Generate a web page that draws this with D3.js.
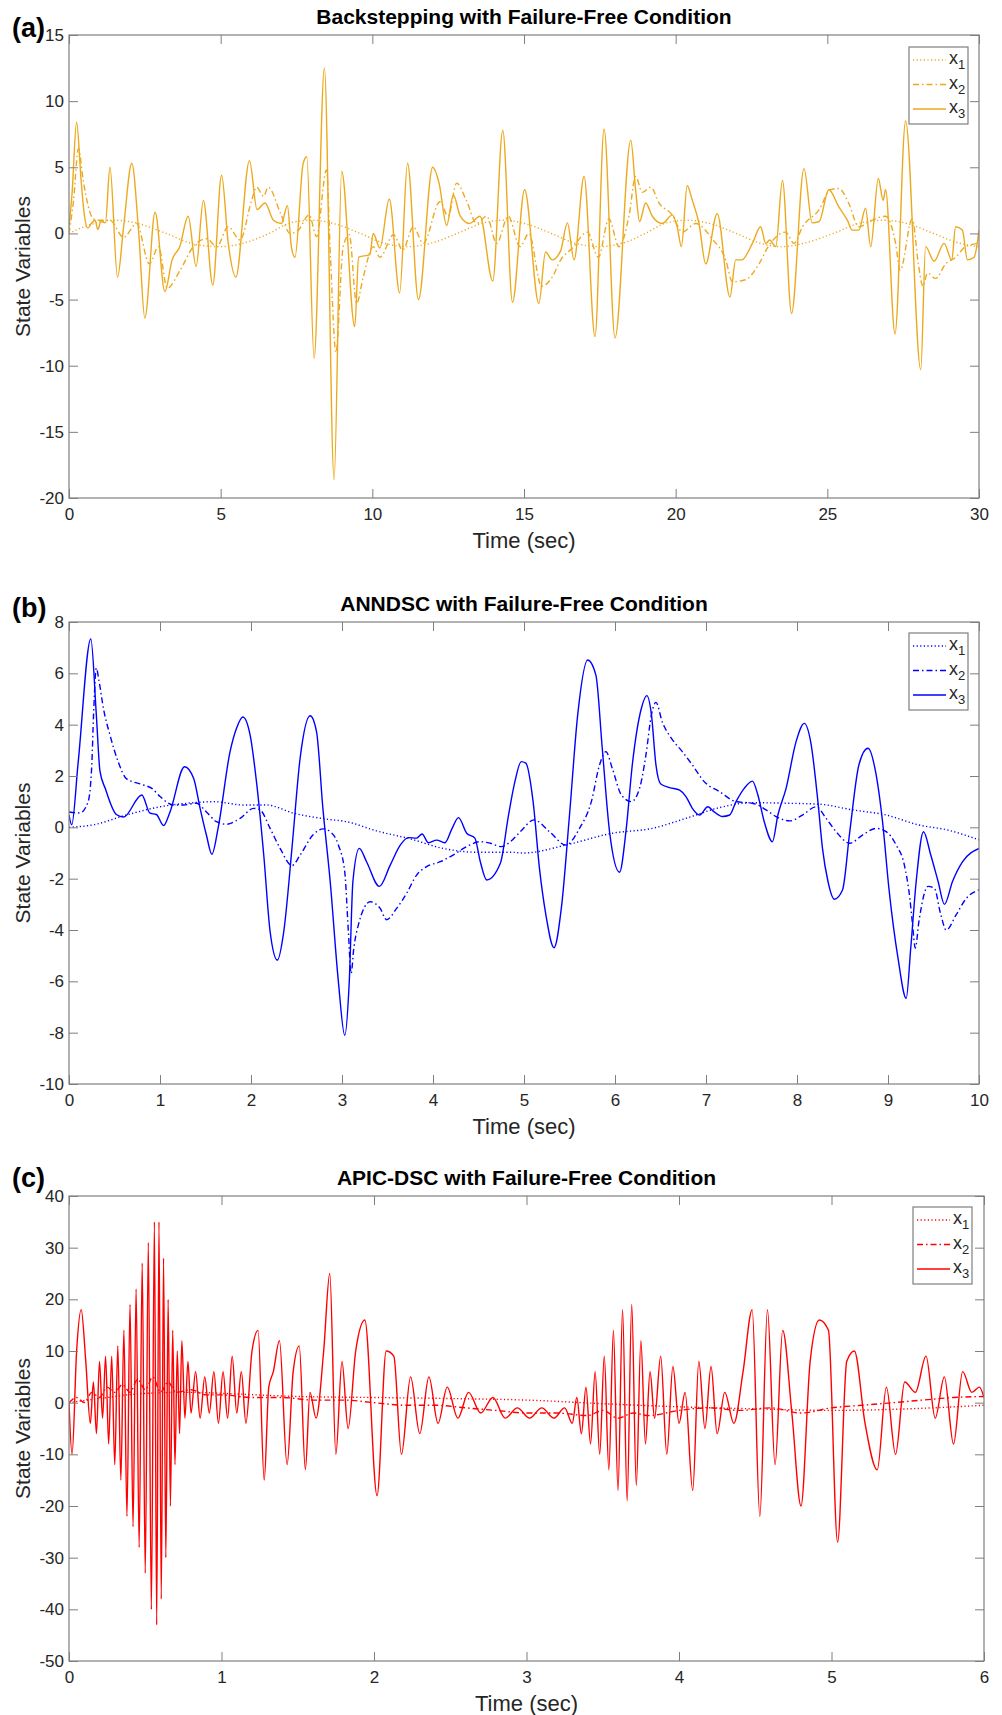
<!DOCTYPE html>
<html>
<head>
<meta charset="utf-8">
<script src="https://cdn.jsdelivr.net/npm/d3@7"></script>
<style>
body { margin: 0; background: #fff; }
text { font-family: Arial, "Liberation Sans", Helvetica, sans-serif; }
</style>
</head>
<body>
<script>
// ---- panel (a): Backstepping, [time, value]
var backX1 = [[0,0],[0.5,0.5],[1.0,0.85],[1.5,1],[2.2,0.8],[3.2,0],[4.2,-0.85],[5.0,-1],[5.8,-0.7],[6.6,0],[7.3,0.8],[8.0,1],[8.8,0.7],[9.6,0],[10.4,-0.75],[11.2,-1],[12.0,-0.7],[12.8,0],[13.6,0.75],[14.3,1],[15.1,0.7],[15.9,0],[16.7,-0.75],[17.5,-1],[18.3,-0.7],[19.0,0],[19.7,0.8],[20.4,1],[21.2,0.7],[22.0,0],[22.8,-0.75],[23.5,-1],[24.3,-0.7],[25.2,0],[26.1,0.8],[26.9,1],[27.7,0.7],[28.5,0],[29.3,-0.7],[30,-1]];
var backX2 = [[0,0],[0.15,2.5],[0.31,6.4],[0.47,4],[0.64,2],[0.8,1.1],[0.97,1],[1.35,1],[1.8,-0.3],[2.23,0.75],[2.65,-2.3],[2.95,-1],[3.24,-4.15],[3.66,-2.8],[4.1,-1],[4.54,-0.4],[4.87,-1],[5.25,0.5],[5.64,-0.5],[6.02,2.5],[6.19,3.5],[6.41,2.8],[6.57,3.5],[6.96,1.6],[7.29,0],[7.56,0.25],[7.92,1.4],[8.16,-0.25],[8.49,4.8],[8.62,-1.8],[8.8,-9],[9.04,-1],[9.24,-0.1],[9.48,-5.3],[9.7,-3.3],[10.03,-1],[10.25,-1.8],[10.7,-0.1],[11.0,-1.25],[11.35,0.5],[11.68,-0.75],[12.23,2.4],[12.5,1.3],[12.78,3.8],[13.1,2.5],[13.44,0.75],[13.77,1.3],[14.1,-0.75],[14.48,1.3],[14.87,-1],[15.16,0],[15.58,-4],[15.93,-3.3],[16.21,-2],[16.6,-1.1],[17.09,0.1],[17.45,-1.8],[17.8,1.1],[18.13,-1],[18.46,1.3],[18.68,4.3],[18.9,3.1],[19.18,3.5],[19.45,2.3],[19.89,1.4],[20.22,0.1],[20.66,0.75],[21.2,-0.4],[21.65,-2],[21.87,-3.65],[22.3,-3.5],[22.75,-2.3],[23.05,-1],[23.63,0.1],[23.9,-0.75],[24.18,0.5],[24.73,1.8],[25.1,3.3],[25.38,3.4],[25.7,2.3],[26.04,0.5],[26.48,1],[26.92,1.3],[27.25,-0.75],[27.4,-2.8],[27.8,1.1],[28.0,-2.3],[28.15,-4],[28.3,-3],[28.57,-3.4],[28.9,-2.3],[29.23,-1.8],[29.56,-1],[30,-0.75]];
var backX3 = [[0,0.5],[0.1,3],[0.25,8.4],[0.4,4],[0.5,1.5],[0.62,0.4],[0.75,0.8],[0.86,1],[0.95,0.3],[1.05,0.9],[1.2,0.8],[1.35,5.0],[1.6,-3.3],[1.8,0.5],[2.07,5.3],[2.3,0],[2.5,-6.4],[2.84,1.6],[3.16,-4.4],[3.4,-2],[3.65,-1],[3.93,1.3],[4.19,-2.5],[4.43,2.5],[4.74,-3.9],[5.03,4.4],[5.25,-0.75],[5.5,-3.3],[5.95,5.5],[6.2,1.8],[6.46,2.3],[6.74,1],[7.0,0.75],[7.2,2.1],[7.33,-1],[7.45,-1.8],[7.72,5.3],[7.84,5.8],[8.08,-9.45],[8.42,12.5],[8.74,-18.6],[8.99,4.7],[9.42,-7.05],[9.55,-1.8],[9.92,-1.6],[10.03,0],[10.25,-1.1],[10.56,2.6],[10.9,-4.5],[11.16,5.3],[11.52,-5.0],[11.99,5.0],[12.2,3.8],[12.45,0.6],[12.67,2.9],[12.9,1.3],[13.2,0.75],[13.55,1.3],[13.97,-3.6],[14.3,7.8],[14.62,-5.2],[15.02,3.3],[15.49,-5.3],[15.71,-1.4],[15.93,-2],[16.21,-1.3],[16.43,0.8],[16.65,-2],[16.98,4.3],[17.34,-7.8],[17.64,7.9],[18.0,-7.9],[18.52,7.05],[18.68,3.3],[18.81,0.9],[19.01,2.3],[19.23,1.3],[19.56,0.75],[19.89,1.4],[20.05,0.5],[20.19,-1],[20.38,3.6],[20.55,2.5],[20.77,0.75],[20.99,-2.3],[21.37,1.5],[21.79,-4.8],[21.98,-2],[22.18,-2],[22.53,-0.75],[22.8,0.5],[22.97,-0.75],[23.1,-0.5],[23.3,-1],[23.52,4.0],[23.82,-6.05],[24.23,4.9],[24.5,0.8],[24.73,0.9],[25.05,3.3],[25.38,2],[25.66,1],[25.82,0.25],[26.04,0.25],[26.26,1.9],[26.43,-1],[26.68,4.15],[26.84,2.5],[26.92,3.3],[27.23,-7.6],[27.58,8.5],[28.08,-10.3],[28.24,-1],[28.52,-2.1],[28.85,-0.75],[29.1,-2],[29.23,0.5],[29.45,0.25],[29.62,-2],[29.84,-1.8],[30,0.25]];
var backXTicks = [0, 5, 10, 15, 20, 25, 30];
var backYTicks = [-20, -15, -10, -5, 0, 5, 10, 15];

// ---- panel (b): ANNDSC
var anndX1 = [[0,0],[0.27,0.1],[0.63,0.48],[1.0,0.8],[1.37,0.96],[1.59,1.0],[1.92,0.87],[2.17,0.87],[2.47,0.55],[2.83,0.32],[3.05,0.22],[3.38,-0.14],[3.75,-0.45],[4.11,-0.82],[4.48,-0.97],[4.85,-0.97],[5.0,-1.0],[5.46,-0.69],[5.97,-0.23],[6.41,-0.04],[6.78,0.35],[7.15,0.77],[7.51,0.96],[7.88,0.94],[8.25,0.9],[8.61,0.68],[8.98,0.48],[9.34,0.09],[9.65,-0.1],[10,-0.49]];
var anndX2 = [[0,0.6],[0.12,0.56],[0.21,1.0],[0.25,2.4],[0.27,4.4],[0.3,6.2],[0.33,5.7],[0.38,4.6],[0.45,3.6],[0.54,2.56],[0.63,1.9],[0.82,1.65],[0.91,1.52],[1.0,1.2],[1.15,0.87],[1.26,0.87],[1.4,0.94],[1.51,0.6],[1.62,0.22],[1.73,0.12],[1.88,0.35],[2.03,0.74],[2.1,0.68],[2.21,-0.04],[2.32,-0.82],[2.45,-1.49],[2.54,-1.08],[2.68,-0.3],[2.79,-0.06],[2.87,-0.17],[2.96,-0.69],[3.03,-1.73],[3.07,-4.06],[3.1,-5.69],[3.13,-4.7],[3.18,-3.8],[3.31,-2.9],[3.42,-3.16],[3.49,-3.6],[3.6,-3.16],[3.71,-2.57],[3.82,-1.86],[3.93,-1.53],[4.08,-1.34],[4.22,-1.08],[4.37,-0.75],[4.52,-0.56],[4.63,-0.62],[4.75,-0.75],[4.85,-0.56],[4.96,-0.17],[5.11,0.29],[5.28,-0.17],[5.46,-0.69],[5.61,-0.04],[5.74,1.0],[5.83,2.43],[5.9,2.95],[5.97,2.3],[6.07,1.26],[6.18,1.0],[6.27,1.52],[6.34,2.82],[6.4,4.38],[6.45,4.87],[6.52,4.1],[6.62,3.47],[6.74,2.95],[6.85,2.43],[6.98,1.78],[7.15,1.39],[7.33,1.0],[7.51,0.94],[7.66,0.68],[7.77,0.42],[7.92,0.25],[8.06,0.48],[8.21,0.8],[8.32,0.35],[8.43,-0.17],[8.58,-0.62],[8.72,-0.3],[8.87,-0.04],[8.98,-0.17],[9.09,-0.69],[9.18,-1.47],[9.24,-2.77],[9.27,-3.8],[9.3,-4.7],[9.34,-3.66],[9.44,-2.3],[9.51,-2.38],[9.58,-3.4],[9.64,-4.0],[9.75,-3.4],[9.86,-2.77],[10,-2.44]];
var anndX3 = [[0,0.48],[0.03,0.1],[0.1,2.5],[0.24,7.34],[0.3,4.4],[0.34,2.2],[0.4,1.5],[0.52,0.5],[0.6,0.4],[0.8,1.26],[0.89,0.55],[0.96,0.5],[1.04,0.07],[1.11,0.6],[1.27,2.36],[1.37,1.9],[1.44,0.75],[1.51,-0.3],[1.57,-1.05],[1.64,0],[1.77,2.95],[1.84,3.85],[1.91,4.3],[1.99,3.6],[2.06,1.78],[2.14,-1.08],[2.21,-4.06],[2.29,-5.17],[2.36,-4.06],[2.45,-0.82],[2.54,2.7],[2.65,4.35],[2.72,3.73],[2.79,0.74],[2.87,-2.1],[2.96,-6.0],[3.03,-8.1],[3.08,-6.0],[3.12,-2.1],[3.19,-0.82],[3.27,-1.34],[3.41,-2.3],[3.53,-1.47],[3.64,-0.69],[3.73,-0.4],[3.82,-0.42],[3.88,-0.26],[3.95,-0.6],[4.04,-0.5],[4.13,-0.6],[4.21,-0.04],[4.28,0.38],[4.37,-0.23],[4.46,-0.42],[4.52,-1.34],[4.59,-2.05],[4.74,-1.4],[4.83,0.48],[4.9,1.78],[4.97,2.56],[5.02,2.5],[5.1,1.0],[5.17,-1.6],[5.24,-3.4],[5.33,-4.69],[5.41,-3.16],[5.5,0.48],[5.59,4.38],[5.7,6.52],[5.79,5.93],[5.86,3.08],[5.94,-0.17],[6.05,-1.75],[6.12,-0.17],[6.19,2.43],[6.29,4.64],[6.35,5.13],[6.4,4.4],[6.45,2.43],[6.5,1.7],[6.6,1.55],[6.71,1.45],[6.78,1.2],[6.85,0.74],[6.93,0.48],[7.02,0.8],[7.09,0.6],[7.18,0.42],[7.26,0.48],[7.33,1.0],[7.42,1.52],[7.51,1.8],[7.57,1.26],[7.64,0.22],[7.73,-0.56],[7.79,0.48],[7.88,1.52],[7.99,3.34],[8.08,4.05],[8.15,3.34],[8.23,1.0],[8.28,-0.82],[8.34,-2.1],[8.41,-2.8],[8.5,-2.44],[8.58,-0.17],[8.68,2.43],[8.78,3.08],[8.87,2.04],[8.94,0.22],[9.01,-2.38],[9.11,-5.1],[9.2,-6.66],[9.25,-4.7],[9.31,-2.1],[9.39,-0.17],[9.47,-1.08],[9.55,-2.1],[9.62,-3.0],[9.71,-2.1],[9.82,-1.34],[10,-0.82]];
var anndXTicks = [0, 1, 2, 3, 4, 5, 6, 7, 8, 9, 10];
var anndYTicks = [-10, -8, -6, -4, -2, 0, 2, 4, 6, 8];

// ---- panel (c): APIC-DSC
var apicX1 = [[0,0],[0.2,0.8],[0.5,1.8],[0.8,2],[1.0,1.8],[1.5,1.2],[2.0,1],[2.5,0.8],[3.0,0.5],[3.5,-0.2],[4.0,-0.8],[4.5,-1.2],[5.0,-1.5],[5.5,-1.2],[6.0,-0.5]];
var apicX2 = [[0,0],[0.05,1],[0.1,0],[0.15,2],[0.2,1],[0.25,3],[0.3,2],[0.35,3.5],[0.4,2],[0.45,4.5],[0.5,2.5],[0.55,5],[0.6,2],[0.65,4],[0.7,2],[0.8,2.5],[0.9,1.5],[1.0,1.5],[1.2,1],[1.4,1],[1.6,0.5],[1.8,0.5],[2.0,0],[2.2,-0.5],[2.4,-0.5],[2.6,-1],[2.8,-1.5],[3.0,-2],[3.2,-2],[3.4,-2.5],[3.5,-1.5],[3.6,-3],[3.7,-2],[3.8,-2.5],[4.0,-1.5],[4.2,-1],[4.4,-1.5],[4.6,-1],[4.8,-2],[5.0,-1],[5.2,-0.5],[5.4,0],[5.6,0.5],[5.8,1],[6.0,1.2]];
var apicX3 = [[0,0],[0.02,-10],[0.05,10],[0.08,18],[0.11,8],[0.14,-4],[0.16,4],[0.18,-6],[0.2,8],[0.22,-3],[0.24,9],[0.26,-8],[0.28,9],[0.3,-12],[0.32,11],[0.34,-15],[0.36,14],[0.38,-22],[0.4,19],[0.42,-24],[0.44,22],[0.46,-28],[0.48,27],[0.5,-33],[0.52,31],[0.54,-40],[0.56,35],[0.575,-43],[0.59,35],[0.605,-38],[0.62,28],[0.635,-30],[0.65,20],[0.665,-20],[0.68,14],[0.695,-12],[0.71,10],[0.725,-6],[0.74,12],[0.76,-3],[0.78,8],[0.8,-2],[0.83,6],[0.86,-3],[0.89,5],[0.92,-2],[0.95,6],[0.98,-4],[1.01,6],[1.04,-3],[1.07,9],[1.1,-2],[1.13,6],[1.16,-4],[1.2,10],[1.24,14],[1.28,-15],[1.31,3],[1.34,6],[1.38,12],[1.43,-12],[1.47,6],[1.51,11],[1.55,-13],[1.58,2],[1.62,-3],[1.67,10],[1.71,25],[1.75,-10],[1.79,8],[1.83,-5],[1.88,10],[1.94,16],[2.02,-18],[2.08,10],[2.13,9],[2.18,-10],[2.24,5],[2.3,-6],[2.36,5],[2.42,-4],[2.48,3],[2.55,-3],[2.62,2],[2.7,-2],[2.78,1],[2.86,-3],[2.94,-1],[3.02,-3],[3.1,-1],[3.18,-3],[3.25,-1],[3.3,-4],[3.33,1],[3.36,-6],[3.39,3],[3.42,-8],[3.45,6],[3.48,-10],[3.51,9],[3.54,-13],[3.57,14],[3.6,-17],[3.63,18],[3.66,-19],[3.69,19],[3.72,-16],[3.75,12],[3.78,-8],[3.81,6],[3.84,-3],[3.88,9],[3.92,-10],[3.96,7],[4.0,-4],[4.04,2],[4.09,-17],[4.13,8],[4.17,-5],[4.21,7],[4.25,-6],[4.3,2],[4.36,-4],[4.42,6],[4.48,18],[4.53,-22],[4.58,18],[4.63,-12],[4.68,14],[4.74,-2],[4.8,-20],[4.86,8],[4.92,16],[4.98,14],[5.04,-27],[5.1,8],[5.15,10],[5.22,-4],[5.3,-13],[5.36,3],[5.42,-10],[5.48,4],[5.55,2],[5.62,9],[5.68,-3],[5.74,5],[5.8,-8],[5.86,6],[5.92,2],[5.97,3],[6.0,1]];
var apicXTicks = [0, 1, 2, 3, 4, 5, 6];
var apicYTicks = [-50, -40, -30, -20, -10, 0, 10, 20, 30, 40];

var seriesNames = ["1", "2", "3"];

var W = 1002, H = 1715;
var AXIS = "#7f7f7f", INK = "#262626";
var DASH = ["1.2,2.4", "6,3,1.5,3", null]; // x1 dotted, x2 dash-dot, x3 solid
var plain = function(d) { return String(d); }; // keeps "-20" with a hyphen, no ".0"

var svg = d3.select("body").append("svg")
    .attr("width", W)
    .attr("height", H);

function drawPanel(p) {
  var x = d3.scaleLinear().domain([p.xTicks[0], p.xTicks[p.xTicks.length - 1]]).range([p.left, p.right]);
  var y = d3.scaleLinear().domain([p.yTicks[0], p.yTicks[p.yTicks.length - 1]]).range([p.bottom, p.top]);
  var g = svg.append("g");

  g.append("clipPath").attr("id", "clip" + p.id)
    .append("rect")
    .attr("x", p.left).attr("y", p.top)
    .attr("width", p.right - p.left).attr("height", p.bottom - p.top);

  var line = d3.line()
      .x(function(d) { return x(d[0]); })
      .y(function(d) { return y(d[1]); })
      .curve(d3.curveMonotoneX);

  // x1 first, x3 on top
  p.series.forEach(function(s, i) {
    g.append("path")
      .attr("clip-path", "url(#clip" + p.id + ")")
      .attr("d", line(s))
      .attr("fill", "none")
      .attr("stroke", p.color)
      .attr("stroke-width", 1.4)
      .attr("stroke-linejoin", "round")
      .attr("stroke-dasharray", DASH[i]);
  });

  // ticks on all four sides, pointing inward
  var gx = g.append("g").attr("transform", "translate(0," + p.bottom + ")")
    .call(d3.axisBottom(x).tickValues(p.xTicks).tickFormat(plain).tickSizeInner(-9).tickSizeOuter(0).tickPadding(10));
  var gt = g.append("g").attr("transform", "translate(0," + p.top + ")")
    .call(d3.axisTop(x).tickValues(p.xTicks).tickSizeInner(-9).tickSizeOuter(0).tickFormat(""));
  var gy = g.append("g").attr("transform", "translate(" + p.left + ",0)")
    .call(d3.axisLeft(y).tickValues(p.yTicks).tickFormat(plain).tickSizeInner(-9).tickSizeOuter(0).tickPadding(5));
  var gr = g.append("g").attr("transform", "translate(" + p.right + ",0)")
    .call(d3.axisRight(y).tickValues(p.yTicks).tickSizeInner(-9).tickSizeOuter(0).tickFormat(""));
  [gx, gt, gy, gr].forEach(function(a) {
    a.select(".domain").remove();
    a.selectAll("line").attr("stroke", AXIS);
    a.selectAll("text").attr("fill", INK).style("font-size", "17px")
      .style("font-family", "Arial, 'Liberation Sans', sans-serif");
  });

  g.append("rect")
    .attr("x", p.left).attr("y", p.top)
    .attr("width", p.right - p.left).attr("height", p.bottom - p.top)
    .attr("fill", "none").attr("stroke", AXIS).attr("stroke-width", 1.2);

  // title, labels, panel letter
  var cx = (p.left + p.right) / 2;
  g.append("text").attr("x", cx).attr("y", p.top - 11)
    .attr("text-anchor", "middle").attr("font-weight", "bold")
    .attr("font-size", 21).attr("fill", "#000").text(p.title);
  g.append("text").attr("x", cx).attr("y", p.bottom + 50)
    .attr("text-anchor", "middle").attr("font-size", 22).attr("fill", INK)
    .text("Time (sec)");
  g.append("text")
    .attr("transform", "translate(30," + ((p.top + p.bottom) / 2) + ") rotate(-90)")
    .attr("text-anchor", "middle").attr("font-size", 21).attr("fill", INK)
    .text("State Variables");
  g.append("text").attr("x", 12).attr("y", p.letterY)
    .attr("font-weight", "bold").attr("font-size", 27).attr("fill", "#000")
    .text(p.letter);

  // legend
  var lg = g.append("g").attr("transform", "translate(" + p.legX + "," + p.legY + ")");
  lg.append("rect").attr("x", 0).attr("y", 0).attr("width", 59).attr("height", 77)
    .attr("fill", "#fff").attr("stroke", AXIS).attr("stroke-width", 1.2);
  seriesNames.forEach(function(n, i) {
    var yy = 13 + i * 24.5;
    lg.append("line").attr("x1", 4).attr("x2", 37).attr("y1", yy).attr("y2", yy)
      .attr("stroke", p.color).attr("stroke-width", 1.4).attr("stroke-dasharray", DASH[i]);
    var t = lg.append("text").attr("x", 40).attr("y", yy + 4)
      .attr("font-size", 18).attr("fill", INK).text("x");
    t.append("tspan").attr("dy", 5).attr("font-size", 13).text(n);
  });
}

var panels = [
  {id: "a", letter: "(a)", letterY: 37, title: "Backstepping with Failure-Free Condition",
   color: "#EDA91E", series: [backX1, backX2, backX3], xTicks: backXTicks, yTicks: backYTicks,
   left: 69, right: 979, top: 35, bottom: 498, legX: 909, legY: 47},
  {id: "b", letter: "(b)", letterY: 617, title: "ANNDSC with Failure-Free Condition",
   color: "#0000FF", series: [anndX1, anndX2, anndX3], xTicks: anndXTicks, yTicks: anndYTicks,
   left: 69, right: 979, top: 622, bottom: 1084, legX: 909, legY: 633},
  {id: "c", letter: "(c)", letterY: 1187, title: "APIC-DSC with Failure-Free Condition",
   color: "#FF0000", series: [apicX1, apicX2, apicX3], xTicks: apicXTicks, yTicks: apicYTicks,
   left: 69, right: 984, top: 1196, bottom: 1661, legX: 913, legY: 1207}
];

panels.forEach(drawPanel);
</script>
</body>
</html>
